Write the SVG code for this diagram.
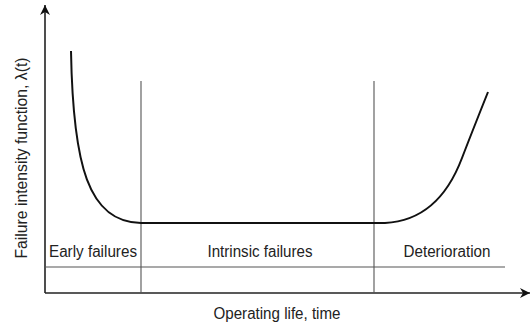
<svg xmlns="http://www.w3.org/2000/svg" width="532" height="326" viewBox="0 0 532 326">
<defs>
<marker id="arr" viewBox="0 0 10 10" refX="10" refY="5" markerWidth="10" markerHeight="10" markerUnits="userSpaceOnUse" orient="auto">
<path d="M0,0 L10,5 L0,10 L3,5 Z" fill="#111"/>
</marker>
<style>
.axis{stroke:#222;stroke-width:1.6;fill:none}
.div{stroke:#555;stroke-width:1.1;fill:none}
.curve{stroke:#111;stroke-width:2;fill:none}
text{font-family:"Liberation Sans",Arial,sans-serif;font-size:16px;fill:#222}
</style>
</defs>
<rect width="532" height="326" fill="#fff"/>
<g id="connectors">
<line class="axis" x1="45" y1="293" x2="45" y2="5" marker-end="url(#arr)"/>
<line class="axis" x1="45" y1="293" x2="530" y2="293" marker-end="url(#arr)"/>
<line class="div" x1="141" y1="81" x2="141" y2="293"/>
<line class="div" x1="374" y1="81" x2="374" y2="293"/>
<line class="div" x1="45" y1="267" x2="505" y2="267"/>
<path id="bathtub" class="curve" d="M71,51 C73,165 88,222 141,223 L385,223 C425,221 448,195 462,158 C472,132 480,112 488,92"/>
</g>
<g id="label-early"><text x="93" y="257" text-anchor="middle" textLength="88" lengthAdjust="spacingAndGlyphs">Early failures</text></g>
<g id="label-intrinsic"><text x="260" y="257" text-anchor="middle" textLength="105" lengthAdjust="spacingAndGlyphs">Intrinsic failures</text></g>
<g id="label-deterioration"><text x="447" y="257" text-anchor="middle" textLength="87" lengthAdjust="spacingAndGlyphs">Deterioration</text></g>
<g id="label-x"><text x="277" y="319" text-anchor="middle" textLength="127" lengthAdjust="spacingAndGlyphs">Operating life, time</text></g>
<g id="label-y"><text transform="translate(27,158) rotate(-90)" x="0" y="0" text-anchor="middle" textLength="201" lengthAdjust="spacingAndGlyphs">Failure intensity function, λ(t)</text></g>
</svg>
